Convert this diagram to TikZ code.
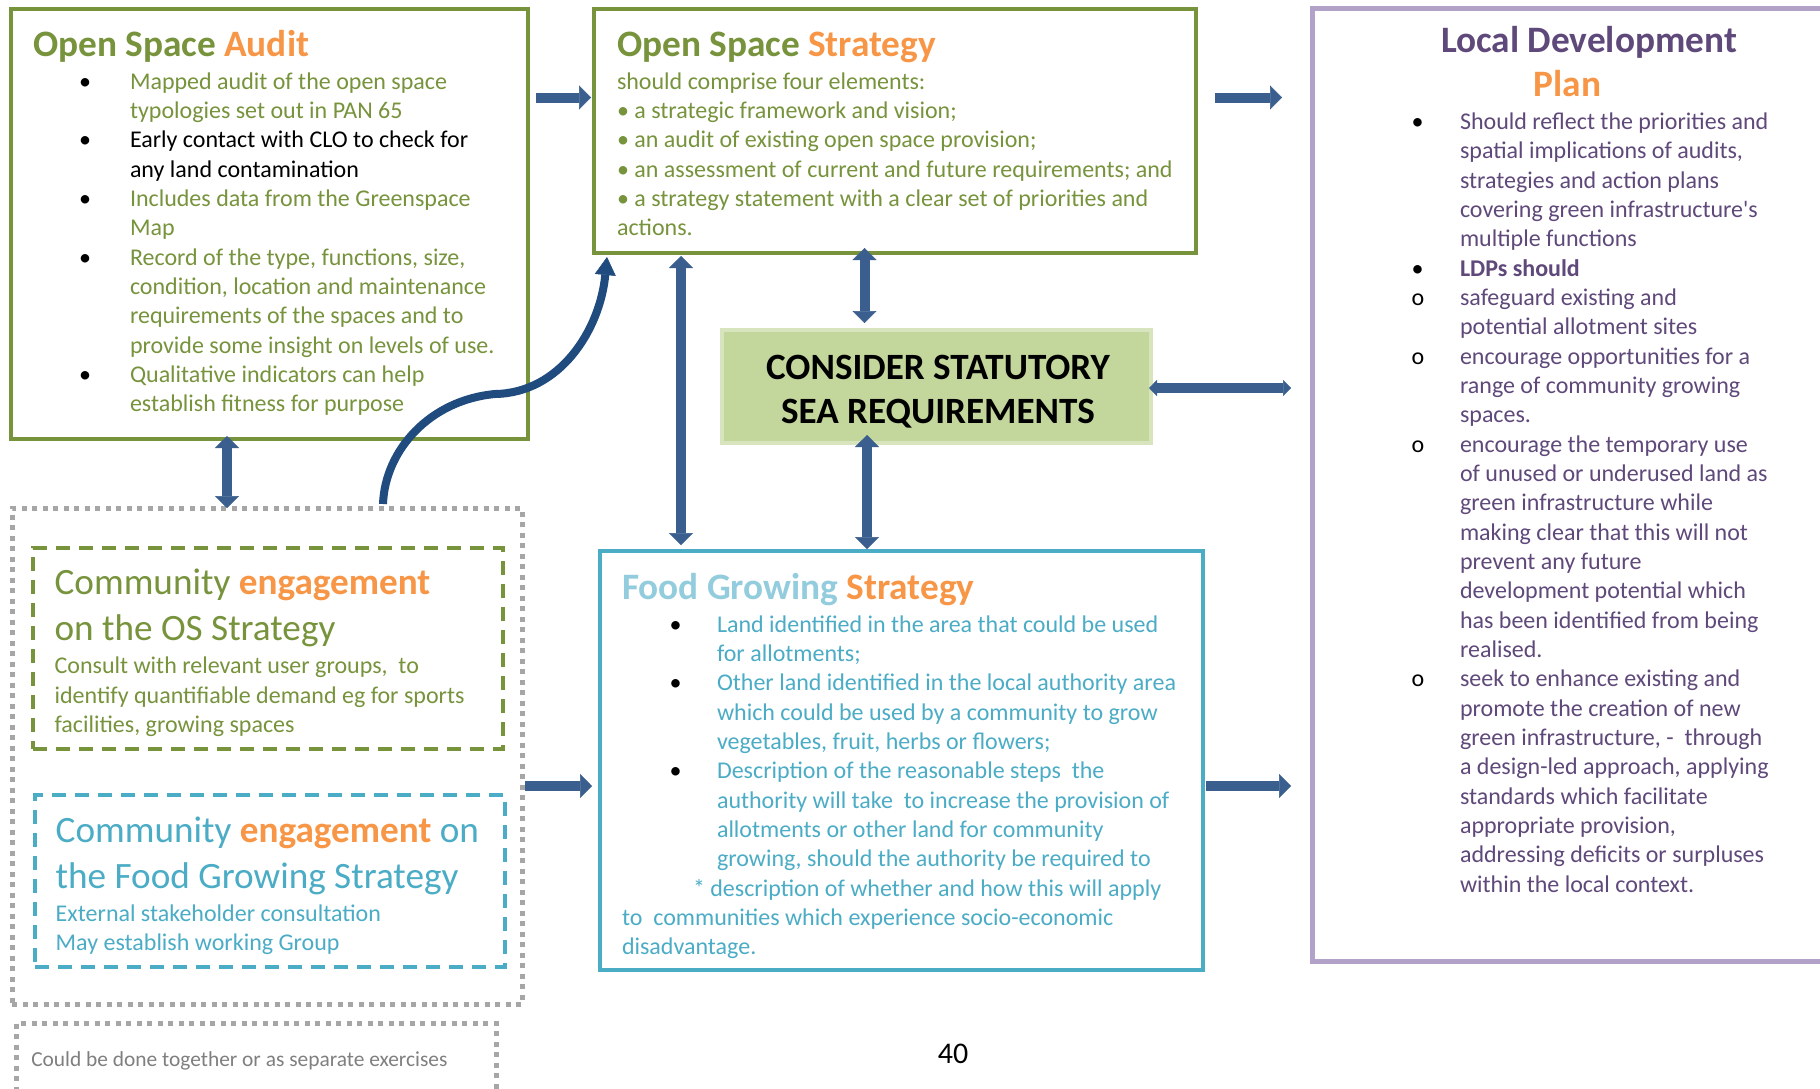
\documentclass[tikz,border=0pt]{standalone}
\usepackage{fontspec}
\setmainfont{Carlito}
\usepackage{array}
\usetikzlibrary{arrows.meta,calc}
\definecolor{osgreen}{HTML}{77933C}
\definecolor{osorange}{HTML}{F79646}
\definecolor{ldppurple}{HTML}{5F497A}
\definecolor{ldpborder}{HTML}{B3A2C7}
\definecolor{fgblue}{HTML}{4BACC6}
\definecolor{fglight}{HTML}{93CDDD}
\definecolor{seafill}{HTML}{C3D69B}
\definecolor{seaborder}{HTML}{D7E4BD}
\definecolor{arrowblue}{HTML}{3A5F8E}
\definecolor{curveblue}{HTML}{1F4B7F}
\definecolor{dotgray}{HTML}{A6A6A6}
\definecolor{notegray}{HTML}{7F7F7F}
\tikzset{
  boxshape/.style={rectangle, inner sep=0pt, outer sep=0pt, anchor=north west},
  solidbox/.style={boxshape, line width=3.5pt},
  dotbox/.style={boxshape, draw=dotgray, line width=5pt, dash pattern=on 5pt off 5.5pt},
  dashbox/.style={boxshape, line width=3.5pt, dash pattern=on 14pt off 9pt},
  txt/.style={inner sep=0pt, outer sep=0pt, anchor=base west},
  body/.style={txt, font=\fontsize{24}{29.33}\selectfont},
  ttl/.style={txt, font=\fontsize{37.3}{44}\selectfont\bfseries},
  cettl/.style={txt, font=\fontsize{37.2}{46}\selectfont},
  bigtip/.tip={Triangle[width=24pt,length=12pt,line width=0.5pt]},
  smalltip/.tip={Triangle[width=16pt,length=8pt,line width=0.5pt]},
  arr/.style={draw=arrowblue, line width=10pt, -bigtip},
  darr/.style={draw=arrowblue, line width=10pt, bigtip-bigtip},
  sarr/.style={draw=arrowblue, line width=10pt, smalltip-smalltip},
  carr/.style={draw=curveblue, line width=8pt, -{Triangle[width=21pt,length=18pt,line width=0.5pt]}},
}
\begin{document}
\begin{tikzpicture}[x=1pt,y=-1pt]
\path[use as bounding box] (0,0) rectangle (1820,1088);
\clip (0,0) rectangle (1820,1088);
\fill[white] (0,0) rectangle (1820,1088);

% ---------- boxes ----------
\node[solidbox, draw=osgreen, minimum width=517pt, minimum height=430pt] (audit) at (11,9) {};
\node[solidbox, draw=osgreen, minimum width=602pt, minimum height=244pt] (strategy) at (594,9) {};
\node[boxshape, draw=ldpborder, line width=5pt, minimum width=560pt, minimum height=953pt] (ldp) at (1312,8) {};
\node[boxshape, draw=seaborder, fill=seafill, line width=4pt, minimum width=429pt, minimum height=113pt] (sea) at (722,330) {};
\node[dotbox, minimum width=510pt, minimum height=496pt] (outer) at (12,508) {};
\node[dashbox, draw=osgreen, minimum width=470pt, minimum height=201pt] (osce) at (33,548) {};
\node[dashbox, draw=fgblue, minimum width=470pt, minimum height=172pt] (fgce) at (35,795) {};
\node[dotbox, minimum width=480pt, minimum height=100pt] (note) at (16,1023) {};
\node[solidbox, draw=fgblue, minimum width=603pt, minimum height=419pt] (food) at (600,551) {};

% ---------- Open Space Audit ----------
\node[ttl] (auditTitle) at (33,56.2) {\color{osgreen}Open Space \color{osorange}Audit};
\node[body] (auditList) at (79,89.2) {\begin{tabular}[t]{@{}p{51pt}@{}>{\color{osgreen}}l@{}}
\textbullet & Mapped audit of the open space\\
 & typologies set out in PAN 65\\
\textbullet & \color{black}Early contact with CLO to check for\\
 & \color{black}any land contamination\\
\textbullet & Includes data from the Greenspace\\
 & Map\\
\textbullet & Record of the type, functions, size,\\
 & condition, location and maintenance\\
 & requirements of the spaces and to\\
 & provide some insight on levels of use.\\
\textbullet & Qualitative indicators can help\\
 & establish fitness for purpose
\end{tabular}};

% ---------- Open Space Strategy ----------
\node[ttl] (stratTitle) at (617,56.2) {\color{osgreen}Open Space \color{osorange}Strategy};
\node[body] (stratList) at (617,89.2) {\begin{tabular}[t]{@{}>{\color{osgreen}}l@{}}
should comprise four elements:\\
\textbullet\ a strategic framework and vision;\\
\textbullet\ an audit of existing open space provision;\\
\textbullet\ an assessment of current and future requirements; and\\
\textbullet\ a strategy statement with a clear set of priorities and\\
actions.
\end{tabular}};

% ---------- Local Development Plan ----------
\node[ttl, anchor=base] (ldpTitleA) at (1589,52.2) {\color{ldppurple}Local Development};
\node[ttl, anchor=base] (ldpTitleB) at (1567.5,96.7) {\color{osorange}Plan};
\node[body] (ldpList) at (1411.5,129.5) {\begin{tabular}[t]{@{}p{48.5pt}@{}>{\color{ldppurple}}l@{}}
\textbullet & Should reflect the priorities and\\
 & spatial implications of audits,\\
 & strategies and action plans\\
 & covering green infrastructure\textquotesingle s\\
 & multiple functions\\
\textbullet & \textbf{LDPs should}\\
o & safeguard existing and\\
 & potential allotment sites\\
o & encourage opportunities for a\\
 & range of community growing\\
 & spaces.\\
o & encourage the temporary use\\
 & of unused or underused land as\\
 & green infrastructure while\\
 & making clear that this will not\\
 & prevent any future\\
 & development potential which\\
 & has been identified from being\\
 & realised.\\
o & seek to enhance existing and\\
 & promote the creation of new\\
 & green infrastructure, -~~through\\
 & a design-led approach, applying\\
 & standards which facilitate\\
 & appropriate provision,\\
 & addressing deficits or surpluses\\
 & within the local context.
\end{tabular}};

% ---------- SEA ----------
\node[txt, anchor=base, font=\fontsize{37.1}{44}\selectfont\bfseries] (seaText) at (938,379) {\begin{tabular}[t]{@{}c@{}}
CONSIDER STATUTORY\\
SEA REQUIREMENTS
\end{tabular}};

% ---------- Food Growing Strategy ----------
\node[ttl] (foodTitle) at (622,599.5) {\color{fglight}Food Growing \color{osorange}Strategy};
\node[body] (foodList) at (622,632.3) {\begin{tabular}[t]{@{}p{95pt}@{}>{\color{fgblue}}l@{}}
\hspace*{47.5pt}\textbullet & Land identified in the area that could be used\\
 & for allotments;\\
\hspace*{47.5pt}\textbullet & Other land identified in the local authority area\\
 & which could be used by a community to grow\\
 & vegetables, fruit, herbs or flowers;\\
\hspace*{47.5pt}\textbullet & Description of the reasonable steps~~the\\
 & authority will take~~to increase the provision of\\
 & allotments or other land for community\\
 & growing, should the authority be required to\\
\multicolumn{2}{@{}>{\color{fgblue}}l@{}}{\hspace*{71pt}* description of whether and how this will apply}\\
\multicolumn{2}{@{}>{\color{fgblue}}l@{}}{to~~communities which experience socio-economic}\\
\multicolumn{2}{@{}>{\color{fgblue}}l@{}}{disadvantage.}
\end{tabular}};

% ---------- Community engagement (OS) ----------
\node[cettl] (osceTitle) at (54.6,594.3) {\begin{tabular}[t]{@{}>{\color{osgreen}}l@{}}
Community {\bfseries\color{osorange}engagement}\\
on the OS Strategy
\end{tabular}};
\node[body] (osceText) at (54.6,673.8) {\begin{tabular}[t]{@{}>{\color{osgreen}}l@{}}
Consult with relevant user groups,~~to\\
identify quantifiable demand eg for sports\\
facilities, growing spaces
\end{tabular}};

% ---------- Community engagement (FG) ----------
\node[cettl] (fgceTitle) at (55.7,842.3) {\begin{tabular}[t]{@{}>{\color{fgblue}}l@{}}
Community {\bfseries\color{osorange}engagement} on\\
the Food Growing Strategy
\end{tabular}};
\node[body] (fgceText) at (55.7,921.5) {\begin{tabular}[t]{@{}>{\color{fgblue}}l@{}}
External stakeholder consultation\\
May establish working Group
\end{tabular}};

% ---------- note and page number ----------
\node[txt, font=\fontsize{21.4}{25}\selectfont, text=notegray] (noteText) at (31.3,1066.3) {Could be done together or as separate exercises};
\node[txt, anchor=base, font=\fontsize{30}{36}\selectfont] (pageNo) at (953,1063.7) {40};

% ---------- connectors ----------
\draw[arr] ($(audit.north east)+(8,88.5)$) -- ($(strategy.north west)+(-3,88.5)$);
\draw[arr] ($(strategy.north east)+(19,88.5)$) -- ($(ldp.north west)+(-30,89.5)$);
\draw[darr] ($(strategy.south west)+(270.5,-5)$) -- ($(sea.north west)+(142.5,-7)$);
\draw[darr] ($(strategy.south west)+(87,3)$) -- ($(food.north west)+(81,-6)$);
\draw[darr] ($(sea.south west)+(145,-8)$) -- ($(food.north west)+(267,-2)$);
\draw[sarr] ($(sea.north east)+(-2,58)$) -- ($(ldp.north west)+(-21,380)$);
\draw[darr] ($(audit.south west)+(216,-3)$) -- ($(outer.north west)+(215,0)$);
\draw[arr] ($(outer.north east)+(3,278)$) -- ($(food.north west)+(-8,235)$);
\draw[arr] ($(food.north east)+(3,235)$) -- ($(ldp.north west)+(-21,778)$);
\coordinate (cmid) at (495,394);
\draw[carr] ($(outer.north west)+(371,-4)$) .. controls (385,450) and (430,400) .. (cmid)
  .. controls (560,393) and (600,330) .. ($(strategy.south west)+(13,4)$);
\end{tikzpicture}
\end{document}
